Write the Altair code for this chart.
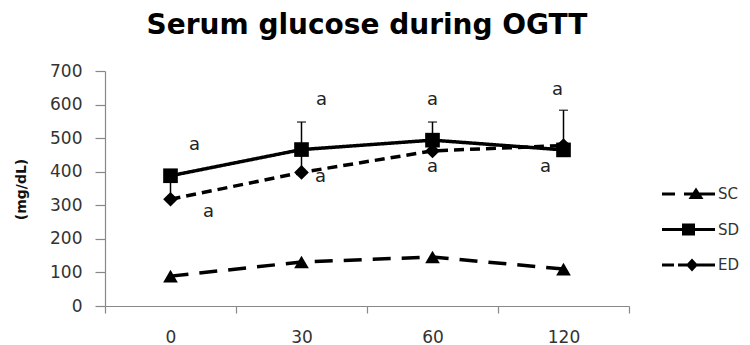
import altair as alt
import pandas as pd

# ---------------- data ----------------
times = ["0", "30", "60", "120"]
series_names = ["SC", "SD", "ED"]
sc_values = [89, 131, 146, 110]
sd_values = [388, 466, 494, 465]
ed_values = [318, 398, 462, 478]
sc_err = [0, 0, 0, 0]
sd_err = [0, 82, 54, 118]
ed_err = [70, 68, 0, 0]
y_ticks = [0, 100, 200, 300, 400, 500, 600, 700]
ann_text = ["a", "a", "a", "a", "a", "a", "a", "a"]
ann_time = ["0", "0", "30", "30", "60", "60", "120", "120"]
ann_value = [480, 281, 614, 384, 614, 415, 643, 415]
title_text = "Serum glucose during OGTT"
y_title = "(mg/dL)"

# ---------------- tables ----------------
vals = {"SC": sc_values, "SD": sd_values, "ED": ed_values}
errs = {"SC": sc_err, "SD": sd_err, "ED": ed_err}
rows = []
for s in ["SC", "ED", "SD"]:  # drawing order
    for i, t in enumerate(times):
        rows.append(dict(series=s, time=t, idx=i, value=vals[s][i],
                         err=errs[s][i], upper=vals[s][i] + errs[s][i]))
df = pd.DataFrame(rows)
ann_df = pd.DataFrame({"time": ann_time, "value": ann_value, "label": ann_text})

# ---------------- styling ----------------
FONT = "DejaVu Sans"
AXIS_GRAY = "#888888"
LABEL_COLOR = "#333333"

x_scale = alt.Scale(type="band", domain=times, paddingInner=0, paddingOuter=0)
x_axis = alt.Axis(tickBand="extent", labelFont=FONT, labelFontSize=17,
                  labelColor=LABEL_COLOR, domainColor=AXIS_GRAY, tickColor=AXIS_GRAY,
                  tickSize=7, labelPadding=16, labelAngle=0, grid=False,
                  domainWidth=1.2, tickWidth=1.2)
y_scale = alt.Scale(domain=[0, 700], nice=False, zero=True)
y_axis = alt.Axis(values=y_ticks, labelFont=FONT, labelFontSize=17,
                  labelColor=LABEL_COLOR, domainColor=AXIS_GRAY, tickColor=AXIS_GRAY,
                  tickSize=10, labelPadding=13, grid=False, domainWidth=1.2,
                  tickWidth=1.2, titleFont=FONT, titleFontSize=14,
                  titleFontWeight="bold", titleColor="#111111", titleX=-84,
                  titleY=118, titleAlign="center", titleBaseline="middle")


def X():
    return alt.X("time:N", sort=times, scale=x_scale, axis=x_axis, title=None)


def Y(field):
    return alt.Y(f"{field}:Q", scale=y_scale, axis=y_axis, title=y_title)


base = alt.Chart(df)

lines = base.mark_line(color="black", strokeWidth=3.5).encode(
    x=X(), y=Y("value"),
    strokeDash=alt.StrokeDash("series:N", scale=alt.Scale(
        domain=series_names, range=[[18, 11], [1, 0], [10, 6]]), legend=None),
    order=alt.Order("idx:Q"),
)

err_rules = base.transform_filter("datum.err > 0").mark_rule(
    color="black", strokeWidth=1.5).encode(x=X(), y=Y("value"), y2="upper:Q")
err_caps = base.transform_filter("datum.err > 0").mark_tick(
    color="black", thickness=1.5, size=9).encode(x=X(), y=Y("upper"))

points = base.mark_point(filled=True, color="black", opacity=1, size=215).encode(
    x=X(), y=Y("value"),
    shape=alt.Shape("series:N", scale=alt.Scale(
        domain=series_names, range=["triangle-up", "square", "diamond"]), legend=None),
)

# legend glyphs: (dashed) line pieces drawn as thin filled bars, plus the marker
legend_paths = [
    "M-2.8,-0.15H-1.5V0.15H-2.8Z"
    "M-0.6,-0.15H2.5V0.15H-0.6Z"
    "M0.6,-0.65L1.35,0.5L-0.15,0.5Z",
    "M-2.8,-0.15H2.5V0.15H-2.8Z"
    "M-0.8,-0.6H0.5V0.6H-0.8Z",
    "M-2.8,-0.15H-1.6V0.15H-2.8Z"
    "M-1.2,-0.15H2.5V0.15H-1.2Z"
    "M0.2,-0.65L0.8,0L0.2,0.65L-0.4,0Z",
]
legend_layer = base.mark_point(filled=True, color="black", opacity=0).encode(
    x=X(), y=Y("value"),
    shape=alt.Shape("series:N", scale=alt.Scale(domain=series_names, range=legend_paths),
                    legend=alt.Legend(title=None, orient="none", legendX=575, legendY=113,
                                      symbolSize=400, symbolStrokeWidth=0,
                                      symbolFillColor="black",
                                      symbolOpacity=1, labelFont=FONT, labelFontSize=15,
                                      labelColor=LABEL_COLOR, labelOffset=18,
                                      rowPadding=17.5, padding=0)),
)

# pixel nudges of the "a" letters relative to their time column centre
ann_nudge = [24, 38, 20, 19, 0, 0, -6, -18]
ann_layers = []
for i, dx in enumerate(ann_nudge):
    ann_layers.append(
        alt.Chart(ann_df.iloc[[i]]).mark_text(
            font=FONT, fontSize=18, color="#222222", dx=dx, baseline="middle",
            align="center").encode(x=X(), y=Y("value"), text="label:N")
    )

chart = alt.layer(lines, err_rules, err_caps, points, legend_layer, *ann_layers).resolve_scale(
    shape="independent"
).properties(
    width=524, height=235,
    title=alt.TitleParams(title_text, font=FONT, fontSize=28, fontWeight="bold",
                          color="black", anchor="middle", frame="group", offset=29,
                          dy=35, baseline="bottom"),
    autosize=alt.AutoSizeParams(type="none"),
    padding={"left": 105, "top": 71, "right": 121, "bottom": 39},
    background="white",
).configure_view(stroke=None)

chart.save("out.html", embed_options={"renderer": "svg", "actions": False})
